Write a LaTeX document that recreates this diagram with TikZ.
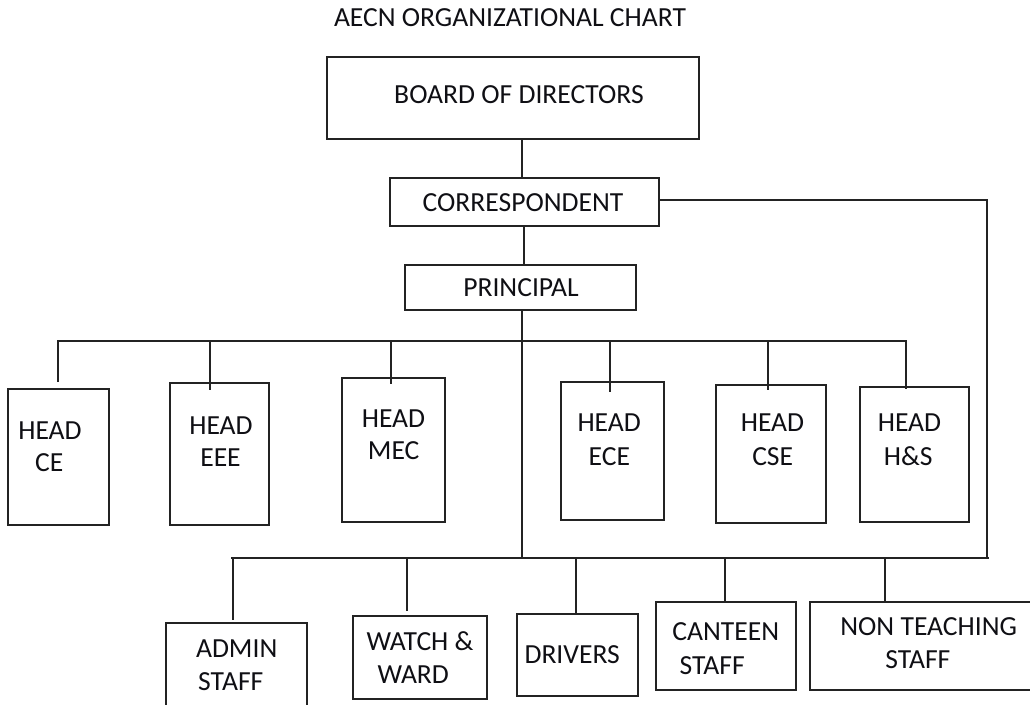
\documentclass[tikz,border=0pt]{standalone}
\usepackage{fontspec}
\setmainfont{Carlito}
\begin{document}
\begin{tikzpicture}[x=1pt,y=-1pt,
  conn/.style={draw={rgb,255:red,35;green,35;blue,35},line width=1.8pt},
  box/.style={draw={rgb,255:red,35;green,35;blue,35},line width=1.8pt,rectangle,inner sep=0pt,outer sep=0pt},
  txt/.style={anchor=base,inner sep=0pt,text={rgb,255:red,15;green,15;blue,20},font=\fontsize{27.6}{32}\selectfont}]
\useasboundingbox (0,0) rectangle (1030,704);
\clip (0,0) rectangle (1030,704);
\newcommand\mytext[4]{\node[txt] (#1) at (#2,#3) {#4};}
\newcommand\mybox[5]{\node[box,minimum width=#4pt,minimum height=#5pt] (#1) at (#2,#3) {};}
% title
\mytext{title}{510}{26.5}{AECN ORGANIZATIONAL CHART}
% boxes
\mybox{board}{513}{98}{372}{82}
\mybox{corr}{524.5}{202}{269}{48}
\mybox{prin}{520.5}{287.5}{231}{45}
\mybox{hce}{58.5}{457}{101}{136}
\mybox{heee}{219.5}{454}{99}{142}
\mybox{hmec}{393.5}{450}{103}{144}
\mybox{hece}{612.5}{451}{103}{138}
\mybox{hcse}{771}{454}{110}{138}
\mybox{hhs}{914.5}{454.5}{109}{135}
\mybox{admin}{236.5}{671.5}{141}{97}
\mybox{watch}{420}{657.5}{134}{83}
\mybox{drivers}{577.5}{655}{121}{82}
\mybox{canteen}{726}{646}{140}{88}
\mybox{nonteach}{925}{646}{230}{88}
% texts
\mytext{tboard}{519}{103}{BOARD OF DIRECTORS}
\mytext{tcorr}{523}{211}{CORRESPONDENT}
\mytext{tprin}{521}{296}{PRINCIPAL}
\mytext{tce1}{50}{439.3}{HEAD}
\mytext{tce2}{49.3}{471.7}{CE}
\mytext{teee1}{221}{434}{HEAD}
\mytext{teee2}{220.5}{466.7}{EEE}
\mytext{tmec1}{393.5}{427}{HEAD}
\mytext{tmec2}{393.7}{459}{MEC}
\mytext{tece1}{609.2}{431.7}{HEAD}
\mytext{tece2}{609.3}{465}{ECE}
\mytext{tcse1}{772.5}{431.7}{HEAD}
\mytext{tcse2}{772.7}{465}{CSE}
\mytext{ths1}{909.5}{431.7}{HEAD}
\mytext{ths2}{908.3}{465}{H\&S}
\mytext{tadm1}{236.7}{657.3}{ADMIN}
\mytext{tadm2}{230.8}{690.7}{STAFF}
\mytext{twat1}{420}{650.7}{WATCH \&}
\mytext{twat2}{413.3}{683.3}{WARD}
\mytext{tdrv}{572.2}{663.3}{DRIVERS}
\mytext{tcan1}{725.8}{640.7}{CANTEEN}
\mytext{tcan2}{712.2}{674}{STAFF}
\mytext{tnt1}{928.7}{635}{NON TEACHING}
\mytext{tnt2}{917.8}{668.3}{STAFF}
% coordinates
\coordinate (hbusL) at (58,341);
\coordinate (hbusR) at (906,341);
\coordinate (sbusL) at (231,557.7);
\coordinate (sbusR) at (989,557.7);
\coordinate (pbot) at (522,557.7);
\coordinate (rtop) at (987,200);
\coordinate (ceend) at (58,382);
\coordinate (admend) at (233,620);
\coordinate (watend) at (407,611);
% connectors
\draw[conn] (board.south -| pbot) -- (corr.north -| pbot);
\draw[conn] (corr.south -| 524,0) -- (prin.north -| 524,0);
\draw[conn] (corr.east |- rtop) -- (rtop) -- (rtop |- sbusR);
\draw[conn] (prin.south -| pbot) -- (pbot);
\draw[conn] (ceend) -- (hbusL) -- (hbusR) -- (906,389);
\draw[conn] (210,341) -- (210,390);
\draw[conn] (391,341) -- (391,384);
\draw[conn] (610,341) -- (610,392);
\draw[conn] (768,341) -- (768,390);
\draw[conn] (sbusL) -- (sbusR);
\draw[conn] (233,557.7) -- (admend);
\draw[conn] (407,557.7) -- (watend);
\draw[conn] (576,557.7) -- (drivers.north -| 576,0);
\draw[conn] (725,557.7) -- (canteen.north -| 725,0);
\draw[conn] (885,557.7) -- (nonteach.north -| 885,0);
\end{tikzpicture}
\end{document}
